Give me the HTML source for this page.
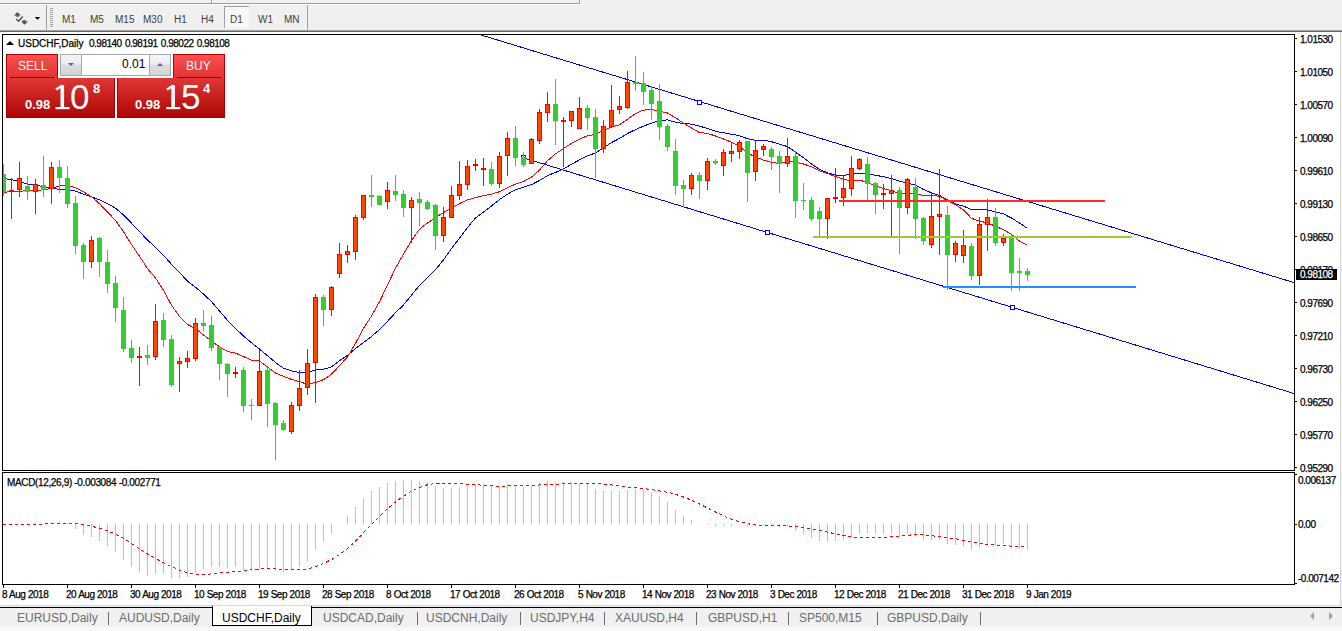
<!DOCTYPE html>
<html><head><meta charset="utf-8">
<style>
html,body{margin:0;padding:0;}
body{width:1342px;height:631px;overflow:hidden;background:#f0f0f0;position:relative;font-family:"Liberation Sans",sans-serif;}
.abs{position:absolute;white-space:nowrap;}
.ax{position:absolute;font-size:10px;line-height:11px;letter-spacing:-0.5px;color:#000;white-space:nowrap;-webkit-text-stroke:0.25px #000;}
.tf{position:absolute;top:14px;font-size:10px;line-height:11px;color:#404040;}
.tab{position:absolute;top:611px;font-size:12px;line-height:14px;color:#6d6d6d;white-space:nowrap;}
.sep{position:absolute;top:612px;width:1px;height:13px;background:#6d6d6d;}
</style></head><body>
<!-- top toolbar remnant -->
<div class="abs" style="left:0;top:0;width:1342px;height:3px;background:#f0f0f0"></div>
<div class="abs" style="left:0;top:3px;width:580px;height:1px;background:#a0a0a0"></div><div class="abs" style="left:0;top:4px;width:580px;height:1px;background:#fcfcfc"></div><div class="abs" style="left:579px;top:0;width:1px;height:4px;background:#a0a0a0"></div><div class="abs" style="left:211px;top:0;width:1px;height:3px;background:#a0a0a0"></div><div class="abs" style="left:212px;top:0;width:1px;height:3px;background:#fff"></div>
<div class="abs" style="left:46px;top:5px;width:1px;height:25px;background:#a0a0a0"></div>
<div class="abs" style="left:307px;top:5px;width:1px;height:25px;background:#a0a0a0"></div>
<!-- toolbar bottom border -->
<div class="abs" style="left:0;top:30px;width:1342px;height:1px;background:#a0a0a0"></div>
<div class="abs" style="left:0;top:31px;width:1342px;height:1px;background:#696969"></div>
<!-- chart window white -->
<div class="abs" style="left:0;top:32px;width:1340px;height:573px;background:#fff"></div>
<div class="abs" style="left:1340px;top:32px;width:1px;height:573px;background:#d8d8d8"></div>
<div class="abs" style="left:0;top:605px;width:1342px;height:1px;background:#d8d8d8"></div>
<div class="abs" style="left:0;top:607px;width:1342px;height:1px;background:#000"></div>
<div class="abs" style="left:0;top:627px;width:1342px;height:4px;background:#f8f8f8"></div>

<svg class="abs" style="left:0;top:0" width="1342" height="631" shape-rendering="crispEdges">
<defs>
<clipPath id="mainclip"><rect x="3" y="35" width="1291" height="435"/></clipPath>
<clipPath id="macdclip"><rect x="3" y="473" width="1291" height="111"/></clipPath>
</defs>
<g clip-path="url(#mainclip)">
<polyline points="3.5,178.4 11.5,179.7 19.5,181.6 27.5,183.9 35.5,185.4 43.5,186.4 51.5,188.3 59.5,189.4 67.5,189.7 75.5,191.1 83.5,194.1 91.5,196.8 99.5,199.9 107.5,203.6 115.5,208.2 123.5,214.9 131.5,223.2 139.5,231.7 147.5,239.9 155.5,247.5 163.5,255.2 171.5,264.4 179.5,272.5 187.5,281.1 195.5,287.3 203.5,294.0 211.5,301.6 219.5,311.0 227.5,320.3 235.5,328.4 243.5,336.0 251.5,342.8 259.5,349.1 267.5,355.8 275.5,362.5 283.5,368.3 291.5,370.9 299.5,372.4 307.5,372.7 315.5,369.8 323.5,369.3 331.5,366.8 339.5,360.6 347.5,355.3 355.5,348.6 363.5,342.5 371.5,336.4 379.5,329.6 387.5,321.3 395.5,312.7 403.5,304.9 411.5,295.1 419.5,285.4 427.5,277.7 435.5,269.7 443.5,259.8 451.5,248.6 459.5,238.1 467.5,227.5 475.5,218.0 483.5,211.9 491.5,205.9 499.5,199.6 507.5,194.1 515.5,189.7 523.5,187.3 531.5,184.6 539.5,180.5 547.5,175.7 555.5,172.4 563.5,168.9 571.5,164.2 579.5,159.9 587.5,155.8 595.5,152.9 603.5,147.7 611.5,142.6 619.5,138.4 627.5,133.5 635.5,129.6 643.5,126.2 651.5,123.1 659.5,120.4 667.5,119.9 675.5,122.2 683.5,123.7 691.5,124.1 699.5,126.1 707.5,128.5 715.5,131.3 723.5,132.8 731.5,134.2 739.5,135.7 747.5,138.8 755.5,140.3 763.5,140.2 771.5,141.7 779.5,144.2 787.5,146.6 795.5,152.2 803.5,157.8 811.5,163.9 819.5,169.4 827.5,172.8 835.5,175.2 843.5,175.3 851.5,174.3 859.5,173.5 867.5,173.6 875.5,175.3 883.5,176.7 891.5,178.5 899.5,181.2 907.5,183.0 915.5,185.2 923.5,189.5 931.5,192.8 939.5,195.5 947.5,199.9 955.5,204.0 963.5,206.1 971.5,209.7 979.5,209.9 987.5,209.8 995.5,212.0 1003.5,213.9 1011.5,218.0 1019.5,223.0 1027.5,228.5" fill="none" stroke="#0000ff" stroke-width="1" />
<polyline points="3.5,192.3 11.5,191.7 19.5,191.2 27.5,190.8 35.5,190.4 43.5,189.8 51.5,188.3 59.5,185.8 67.5,185.2 75.5,187.8 83.5,191.7 91.5,196.8 99.5,203.7 107.5,212.0 115.5,220.4 123.5,231.7 131.5,244.6 139.5,256.3 147.5,268.7 155.5,278.0 163.5,290.4 171.5,305.2 179.5,316.4 187.5,324.4 195.5,328.8 203.5,334.9 211.5,341.0 219.5,346.8 227.5,351.5 235.5,353.1 243.5,356.6 251.5,360.1 259.5,361.1 267.5,367.0 275.5,373.1 283.5,376.3 291.5,379.4 299.5,381.6 307.5,384.4 315.5,382.4 323.5,379.7 331.5,374.2 339.5,365.6 347.5,356.9 355.5,343.4 363.5,328.3 371.5,315.9 379.5,301.7 387.5,284.9 395.5,268.1 403.5,254.1 411.5,240.6 419.5,229.2 427.5,222.9 435.5,217.6 443.5,212.5 451.5,208.3 459.5,203.5 467.5,199.9 475.5,197.7 483.5,195.7 491.5,194.2 499.5,191.7 507.5,187.7 515.5,184.1 523.5,181.6 531.5,177.1 539.5,170.1 547.5,160.7 555.5,153.8 563.5,148.5 571.5,143.3 579.5,139.1 587.5,135.8 595.5,134.4 603.5,130.3 611.5,127.0 619.5,124.8 627.5,119.3 635.5,113.5 643.5,110.1 651.5,109.5 659.5,111.1 667.5,113.0 675.5,117.7 683.5,123.2 691.5,128.0 699.5,132.5 707.5,133.4 715.5,136.0 723.5,139.0 731.5,142.2 739.5,146.5 747.5,152.9 755.5,157.1 763.5,160.1 771.5,162.3 779.5,163.5 787.5,161.3 795.5,162.2 803.5,164.0 811.5,166.7 819.5,170.9 827.5,173.4 835.5,176.6 843.5,179.2 851.5,181.1 859.5,180.1 867.5,182.5 875.5,186.0 883.5,188.6 891.5,190.5 899.5,194.2 907.5,192.6 915.5,193.9 923.5,195.5 931.5,195.2 939.5,196.4 947.5,200.5 955.5,204.5 963.5,210.0 971.5,218.3 979.5,221.2 987.5,222.8 995.5,226.3 1003.5,229.7 1011.5,234.4 1019.5,241.1 1027.5,245.1" fill="none" stroke="#ff0000" stroke-width="1" />
<line x1="481" y1="35" x2="1294" y2="282.6" stroke="#0000ff" stroke-width="1"/>
<line x1="523" y1="157.7" x2="1294" y2="393.5" stroke="#0000ff" stroke-width="1"/>
<rect x="697.5" y="100.5" width="4" height="4" fill="#fff" stroke="#0000ff" stroke-width="1"/>
<rect x="765.5" y="230.5" width="4" height="4" fill="#fff" stroke="#0000ff" stroke-width="1"/>
<rect x="1010.5" y="305.5" width="4" height="4" fill="#fff" stroke="#0000ff" stroke-width="1"/>
<rect x="521.5" y="155.5" width="4" height="4" fill="#fff" stroke="#0000ff" stroke-width="1"/>
<rect x="3" y="164" width="1" height="32" fill="#32cd32"/>
<rect x="1" y="174" width="5" height="18" fill="#32cd32"/>
<rect x="11" y="178" width="1" height="41" fill="#ff0000"/>
<rect x="9" y="190" width="5" height="2" fill="#ff0000"/>
<rect x="19" y="162" width="1" height="35" fill="#ff0000"/>
<rect x="17" y="178" width="5" height="12" fill="#ff0000"/>
<rect x="18" y="179" width="3" height="10" fill="#ff4500"/>
<rect x="27" y="176" width="1" height="24" fill="#32cd32"/>
<rect x="25" y="186" width="5" height="6" fill="#32cd32"/>
<rect x="35" y="179" width="1" height="35" fill="#ff0000"/>
<rect x="33" y="184" width="5" height="8" fill="#ff0000"/>
<rect x="34" y="185" width="3" height="6" fill="#ff4500"/>
<rect x="43" y="156" width="1" height="41" fill="#32cd32"/>
<rect x="41" y="185" width="5" height="5" fill="#32cd32"/>
<rect x="51" y="162" width="1" height="42" fill="#ff0000"/>
<rect x="49" y="167" width="5" height="22" fill="#ff0000"/>
<rect x="50" y="168" width="3" height="20" fill="#ff4500"/>
<rect x="59" y="160" width="1" height="33" fill="#32cd32"/>
<rect x="57" y="167" width="5" height="11" fill="#32cd32"/>
<rect x="67" y="166" width="1" height="42" fill="#32cd32"/>
<rect x="65" y="178" width="5" height="26" fill="#32cd32"/>
<rect x="75" y="196" width="1" height="58" fill="#32cd32"/>
<rect x="73" y="203" width="5" height="43" fill="#32cd32"/>
<rect x="83" y="243" width="1" height="36" fill="#32cd32"/>
<rect x="81" y="245" width="5" height="17" fill="#32cd32"/>
<rect x="91" y="236" width="1" height="32" fill="#ff0000"/>
<rect x="89" y="240" width="5" height="22" fill="#ff0000"/>
<rect x="90" y="241" width="3" height="20" fill="#ff4500"/>
<rect x="99" y="237" width="1" height="40" fill="#32cd32"/>
<rect x="97" y="238" width="5" height="24" fill="#32cd32"/>
<rect x="107" y="250" width="1" height="43" fill="#32cd32"/>
<rect x="105" y="262" width="5" height="22" fill="#32cd32"/>
<rect x="115" y="276" width="1" height="46" fill="#32cd32"/>
<rect x="113" y="283" width="5" height="25" fill="#32cd32"/>
<rect x="123" y="297" width="1" height="55" fill="#32cd32"/>
<rect x="121" y="310" width="5" height="39" fill="#32cd32"/>
<rect x="131" y="340" width="1" height="23" fill="#32cd32"/>
<rect x="129" y="348" width="5" height="10" fill="#32cd32"/>
<rect x="139" y="347" width="1" height="39" fill="#ff0000"/>
<rect x="137" y="356" width="5" height="2" fill="#ff0000"/>
<rect x="147" y="345" width="1" height="20" fill="#32cd32"/>
<rect x="145" y="355" width="5" height="3" fill="#32cd32"/>
<rect x="155" y="304" width="1" height="56" fill="#ff0000"/>
<rect x="153" y="321" width="5" height="36" fill="#ff0000"/>
<rect x="154" y="322" width="3" height="34" fill="#ff4500"/>
<rect x="163" y="313" width="1" height="34" fill="#32cd32"/>
<rect x="161" y="320" width="5" height="20" fill="#32cd32"/>
<rect x="171" y="335" width="1" height="52" fill="#32cd32"/>
<rect x="169" y="339" width="5" height="46" fill="#32cd32"/>
<rect x="179" y="357" width="1" height="35" fill="#ff0000"/>
<rect x="177" y="361" width="5" height="3" fill="#ff0000"/>
<rect x="178" y="362" width="3" height="1" fill="#ff4500"/>
<rect x="187" y="351" width="1" height="17" fill="#ff0000"/>
<rect x="185" y="358" width="5" height="4" fill="#ff0000"/>
<rect x="186" y="359" width="3" height="2" fill="#ff4500"/>
<rect x="195" y="318" width="1" height="43" fill="#ff0000"/>
<rect x="193" y="323" width="5" height="36" fill="#ff0000"/>
<rect x="194" y="324" width="3" height="34" fill="#ff4500"/>
<rect x="203" y="310" width="1" height="21" fill="#32cd32"/>
<rect x="201" y="323" width="5" height="3" fill="#32cd32"/>
<rect x="211" y="316" width="1" height="35" fill="#32cd32"/>
<rect x="209" y="325" width="5" height="23" fill="#32cd32"/>
<rect x="219" y="346" width="1" height="34" fill="#32cd32"/>
<rect x="217" y="347" width="5" height="17" fill="#32cd32"/>
<rect x="227" y="363" width="1" height="34" fill="#32cd32"/>
<rect x="225" y="364" width="5" height="10" fill="#32cd32"/>
<rect x="235" y="367" width="1" height="11" fill="#ff0000"/>
<rect x="233" y="372" width="5" height="2" fill="#ff0000"/>
<rect x="243" y="367" width="1" height="45" fill="#32cd32"/>
<rect x="241" y="370" width="5" height="36" fill="#32cd32"/>
<rect x="251" y="399" width="1" height="21" fill="#32cd32"/>
<rect x="249" y="405" width="5" height="1" fill="#32cd32"/>
<rect x="259" y="349" width="1" height="57" fill="#ff0000"/>
<rect x="257" y="371" width="5" height="35" fill="#ff0000"/>
<rect x="258" y="372" width="3" height="33" fill="#ff4500"/>
<rect x="267" y="367" width="1" height="60" fill="#32cd32"/>
<rect x="265" y="370" width="5" height="34" fill="#32cd32"/>
<rect x="275" y="402" width="1" height="58" fill="#32cd32"/>
<rect x="273" y="403" width="5" height="22" fill="#32cd32"/>
<rect x="283" y="420" width="1" height="11" fill="#32cd32"/>
<rect x="281" y="423" width="5" height="7" fill="#32cd32"/>
<rect x="291" y="402" width="1" height="32" fill="#ff0000"/>
<rect x="289" y="405" width="5" height="27" fill="#ff0000"/>
<rect x="290" y="406" width="3" height="25" fill="#ff4500"/>
<rect x="299" y="370" width="1" height="41" fill="#ff0000"/>
<rect x="297" y="388" width="5" height="18" fill="#ff0000"/>
<rect x="298" y="389" width="3" height="16" fill="#ff4500"/>
<rect x="307" y="349" width="1" height="46" fill="#ff0000"/>
<rect x="305" y="363" width="5" height="25" fill="#ff0000"/>
<rect x="306" y="364" width="3" height="23" fill="#ff4500"/>
<rect x="315" y="294" width="1" height="109" fill="#ff0000"/>
<rect x="313" y="297" width="5" height="66" fill="#ff0000"/>
<rect x="314" y="298" width="3" height="64" fill="#ff4500"/>
<rect x="323" y="295" width="1" height="31" fill="#32cd32"/>
<rect x="321" y="297" width="5" height="13" fill="#32cd32"/>
<rect x="331" y="286" width="1" height="30" fill="#ff0000"/>
<rect x="329" y="287" width="5" height="23" fill="#ff0000"/>
<rect x="330" y="288" width="3" height="21" fill="#ff4500"/>
<rect x="339" y="243" width="1" height="35" fill="#ff0000"/>
<rect x="337" y="254" width="5" height="20" fill="#ff0000"/>
<rect x="338" y="255" width="3" height="18" fill="#ff4500"/>
<rect x="347" y="245" width="1" height="18" fill="#ff0000"/>
<rect x="345" y="251" width="5" height="4" fill="#ff0000"/>
<rect x="346" y="252" width="3" height="2" fill="#ff4500"/>
<rect x="355" y="215" width="1" height="45" fill="#ff0000"/>
<rect x="353" y="217" width="5" height="35" fill="#ff0000"/>
<rect x="354" y="218" width="3" height="33" fill="#ff4500"/>
<rect x="363" y="195" width="1" height="25" fill="#ff0000"/>
<rect x="361" y="195" width="5" height="23" fill="#ff0000"/>
<rect x="362" y="196" width="3" height="21" fill="#ff4500"/>
<rect x="371" y="175" width="1" height="32" fill="#32cd32"/>
<rect x="369" y="195" width="5" height="2" fill="#32cd32"/>
<rect x="379" y="195" width="1" height="10" fill="#32cd32"/>
<rect x="377" y="196" width="5" height="9" fill="#32cd32"/>
<rect x="387" y="182" width="1" height="27" fill="#ff0000"/>
<rect x="385" y="190" width="5" height="12" fill="#ff0000"/>
<rect x="386" y="191" width="3" height="10" fill="#ff4500"/>
<rect x="395" y="175" width="1" height="26" fill="#32cd32"/>
<rect x="393" y="191" width="5" height="4" fill="#32cd32"/>
<rect x="403" y="190" width="1" height="27" fill="#32cd32"/>
<rect x="401" y="194" width="5" height="14" fill="#32cd32"/>
<rect x="411" y="197" width="1" height="46" fill="#ff0000"/>
<rect x="409" y="200" width="5" height="8" fill="#ff0000"/>
<rect x="410" y="201" width="3" height="6" fill="#ff4500"/>
<rect x="419" y="192" width="1" height="34" fill="#32cd32"/>
<rect x="417" y="199" width="5" height="4" fill="#32cd32"/>
<rect x="427" y="200" width="1" height="10" fill="#32cd32"/>
<rect x="425" y="202" width="5" height="7" fill="#32cd32"/>
<rect x="435" y="204" width="1" height="46" fill="#32cd32"/>
<rect x="433" y="205" width="5" height="31" fill="#32cd32"/>
<rect x="443" y="207" width="1" height="35" fill="#ff0000"/>
<rect x="441" y="217" width="5" height="19" fill="#ff0000"/>
<rect x="442" y="218" width="3" height="17" fill="#ff4500"/>
<rect x="451" y="186" width="1" height="32" fill="#ff0000"/>
<rect x="449" y="195" width="5" height="23" fill="#ff0000"/>
<rect x="450" y="196" width="3" height="21" fill="#ff4500"/>
<rect x="459" y="161" width="1" height="39" fill="#ff0000"/>
<rect x="457" y="184" width="5" height="12" fill="#ff0000"/>
<rect x="458" y="185" width="3" height="10" fill="#ff4500"/>
<rect x="467" y="160" width="1" height="30" fill="#ff0000"/>
<rect x="465" y="166" width="5" height="19" fill="#ff0000"/>
<rect x="466" y="167" width="3" height="17" fill="#ff4500"/>
<rect x="475" y="159" width="1" height="12" fill="#ff0000"/>
<rect x="473" y="164" width="5" height="2" fill="#ff0000"/>
<rect x="483" y="158" width="1" height="28" fill="#ff0000"/>
<rect x="481" y="168" width="5" height="2" fill="#ff0000"/>
<rect x="491" y="162" width="1" height="24" fill="#32cd32"/>
<rect x="489" y="169" width="5" height="15" fill="#32cd32"/>
<rect x="499" y="152" width="1" height="36" fill="#ff0000"/>
<rect x="497" y="156" width="5" height="28" fill="#ff0000"/>
<rect x="498" y="157" width="3" height="26" fill="#ff4500"/>
<rect x="507" y="132" width="1" height="44" fill="#ff0000"/>
<rect x="505" y="138" width="5" height="18" fill="#ff0000"/>
<rect x="506" y="139" width="3" height="16" fill="#ff4500"/>
<rect x="515" y="126" width="1" height="40" fill="#32cd32"/>
<rect x="513" y="138" width="5" height="20" fill="#32cd32"/>
<rect x="523" y="152" width="1" height="15" fill="#32cd32"/>
<rect x="521" y="157" width="5" height="8" fill="#32cd32"/>
<rect x="531" y="138" width="1" height="26" fill="#ff0000"/>
<rect x="529" y="139" width="5" height="25" fill="#ff0000"/>
<rect x="530" y="140" width="3" height="23" fill="#ff4500"/>
<rect x="539" y="109" width="1" height="35" fill="#ff0000"/>
<rect x="537" y="112" width="5" height="29" fill="#ff0000"/>
<rect x="538" y="113" width="3" height="27" fill="#ff4500"/>
<rect x="547" y="92" width="1" height="30" fill="#ff0000"/>
<rect x="545" y="104" width="5" height="9" fill="#ff0000"/>
<rect x="546" y="105" width="3" height="7" fill="#ff4500"/>
<rect x="555" y="79" width="1" height="66" fill="#32cd32"/>
<rect x="553" y="104" width="5" height="17" fill="#32cd32"/>
<rect x="563" y="117" width="1" height="50" fill="#ff0000"/>
<rect x="561" y="120" width="5" height="2" fill="#ff0000"/>
<rect x="571" y="111" width="1" height="16" fill="#ff0000"/>
<rect x="569" y="111" width="5" height="10" fill="#ff0000"/>
<rect x="570" y="112" width="3" height="8" fill="#ff4500"/>
<rect x="579" y="97" width="1" height="32" fill="#ff0000"/>
<rect x="577" y="108" width="5" height="21" fill="#ff0000"/>
<rect x="578" y="109" width="3" height="19" fill="#ff4500"/>
<rect x="587" y="105" width="1" height="25" fill="#32cd32"/>
<rect x="585" y="108" width="5" height="10" fill="#32cd32"/>
<rect x="595" y="109" width="1" height="69" fill="#32cd32"/>
<rect x="593" y="117" width="5" height="32" fill="#32cd32"/>
<rect x="603" y="120" width="1" height="33" fill="#ff0000"/>
<rect x="601" y="126" width="5" height="23" fill="#ff0000"/>
<rect x="602" y="127" width="3" height="21" fill="#ff4500"/>
<rect x="611" y="85" width="1" height="42" fill="#ff0000"/>
<rect x="609" y="110" width="5" height="17" fill="#ff0000"/>
<rect x="610" y="111" width="3" height="15" fill="#ff4500"/>
<rect x="619" y="96" width="1" height="18" fill="#ff0000"/>
<rect x="617" y="106" width="5" height="4" fill="#ff0000"/>
<rect x="618" y="107" width="3" height="2" fill="#ff4500"/>
<rect x="627" y="71" width="1" height="38" fill="#ff0000"/>
<rect x="625" y="82" width="5" height="26" fill="#ff0000"/>
<rect x="626" y="83" width="3" height="24" fill="#ff4500"/>
<rect x="635" y="56" width="1" height="35" fill="#32cd32"/>
<rect x="633" y="82" width="5" height="2" fill="#32cd32"/>
<rect x="643" y="72" width="1" height="33" fill="#32cd32"/>
<rect x="641" y="83" width="5" height="9" fill="#32cd32"/>
<rect x="651" y="86" width="1" height="34" fill="#32cd32"/>
<rect x="649" y="90" width="5" height="14" fill="#32cd32"/>
<rect x="659" y="84" width="1" height="56" fill="#32cd32"/>
<rect x="657" y="101" width="5" height="26" fill="#32cd32"/>
<rect x="667" y="124" width="1" height="27" fill="#32cd32"/>
<rect x="665" y="126" width="5" height="21" fill="#32cd32"/>
<rect x="675" y="139" width="1" height="56" fill="#32cd32"/>
<rect x="673" y="151" width="5" height="35" fill="#32cd32"/>
<rect x="683" y="180" width="1" height="27" fill="#32cd32"/>
<rect x="681" y="185" width="5" height="4" fill="#32cd32"/>
<rect x="691" y="173" width="1" height="22" fill="#ff0000"/>
<rect x="689" y="175" width="5" height="14" fill="#ff0000"/>
<rect x="690" y="176" width="3" height="12" fill="#ff4500"/>
<rect x="699" y="172" width="1" height="27" fill="#32cd32"/>
<rect x="697" y="175" width="5" height="6" fill="#32cd32"/>
<rect x="707" y="158" width="1" height="32" fill="#ff0000"/>
<rect x="705" y="161" width="5" height="20" fill="#ff0000"/>
<rect x="706" y="162" width="3" height="18" fill="#ff4500"/>
<rect x="715" y="159" width="1" height="6" fill="#32cd32"/>
<rect x="713" y="161" width="5" height="2" fill="#32cd32"/>
<rect x="723" y="149" width="1" height="27" fill="#ff0000"/>
<rect x="721" y="152" width="5" height="14" fill="#ff0000"/>
<rect x="722" y="153" width="3" height="12" fill="#ff4500"/>
<rect x="731" y="143" width="1" height="19" fill="#ff0000"/>
<rect x="729" y="151" width="5" height="3" fill="#ff0000"/>
<rect x="730" y="152" width="3" height="1" fill="#ff4500"/>
<rect x="739" y="140" width="1" height="19" fill="#ff0000"/>
<rect x="737" y="142" width="5" height="10" fill="#ff0000"/>
<rect x="738" y="143" width="3" height="8" fill="#ff4500"/>
<rect x="747" y="141" width="1" height="61" fill="#32cd32"/>
<rect x="745" y="141" width="5" height="32" fill="#32cd32"/>
<rect x="755" y="140" width="1" height="41" fill="#ff0000"/>
<rect x="753" y="150" width="5" height="22" fill="#ff0000"/>
<rect x="754" y="151" width="3" height="20" fill="#ff4500"/>
<rect x="763" y="144" width="1" height="12" fill="#ff0000"/>
<rect x="761" y="146" width="5" height="4" fill="#ff0000"/>
<rect x="762" y="147" width="3" height="2" fill="#ff4500"/>
<rect x="771" y="147" width="1" height="23" fill="#32cd32"/>
<rect x="769" y="149" width="5" height="8" fill="#32cd32"/>
<rect x="779" y="151" width="1" height="42" fill="#32cd32"/>
<rect x="777" y="156" width="5" height="8" fill="#32cd32"/>
<rect x="787" y="138" width="1" height="29" fill="#ff0000"/>
<rect x="785" y="156" width="5" height="8" fill="#ff0000"/>
<rect x="786" y="157" width="3" height="6" fill="#ff4500"/>
<rect x="795" y="151" width="1" height="67" fill="#32cd32"/>
<rect x="793" y="156" width="5" height="45" fill="#32cd32"/>
<rect x="803" y="183" width="1" height="27" fill="#32cd32"/>
<rect x="801" y="200" width="5" height="1" fill="#32cd32"/>
<rect x="811" y="197" width="1" height="24" fill="#32cd32"/>
<rect x="809" y="200" width="5" height="19" fill="#32cd32"/>
<rect x="819" y="207" width="1" height="30" fill="#32cd32"/>
<rect x="817" y="211" width="5" height="8" fill="#32cd32"/>
<rect x="827" y="198" width="1" height="41" fill="#ff0000"/>
<rect x="825" y="198" width="5" height="21" fill="#ff0000"/>
<rect x="826" y="199" width="3" height="19" fill="#ff4500"/>
<rect x="835" y="168" width="1" height="35" fill="#ff0000"/>
<rect x="833" y="197" width="5" height="2" fill="#ff0000"/>
<rect x="843" y="175" width="1" height="31" fill="#ff0000"/>
<rect x="841" y="188" width="5" height="10" fill="#ff0000"/>
<rect x="842" y="189" width="3" height="8" fill="#ff4500"/>
<rect x="851" y="156" width="1" height="40" fill="#ff0000"/>
<rect x="849" y="168" width="5" height="21" fill="#ff0000"/>
<rect x="850" y="169" width="3" height="19" fill="#ff4500"/>
<rect x="859" y="158" width="1" height="12" fill="#ff0000"/>
<rect x="857" y="159" width="5" height="10" fill="#ff0000"/>
<rect x="858" y="160" width="3" height="8" fill="#ff4500"/>
<rect x="867" y="157" width="1" height="43" fill="#32cd32"/>
<rect x="865" y="164" width="5" height="20" fill="#32cd32"/>
<rect x="875" y="182" width="1" height="32" fill="#32cd32"/>
<rect x="873" y="183" width="5" height="12" fill="#32cd32"/>
<rect x="883" y="184" width="1" height="25" fill="#ff0000"/>
<rect x="881" y="193" width="5" height="2" fill="#ff0000"/>
<rect x="891" y="175" width="1" height="61" fill="#ff0000"/>
<rect x="889" y="190" width="5" height="4" fill="#ff0000"/>
<rect x="890" y="191" width="3" height="2" fill="#ff4500"/>
<rect x="899" y="187" width="1" height="67" fill="#32cd32"/>
<rect x="897" y="190" width="5" height="18" fill="#32cd32"/>
<rect x="907" y="178" width="1" height="36" fill="#ff0000"/>
<rect x="905" y="179" width="5" height="29" fill="#ff0000"/>
<rect x="906" y="180" width="3" height="27" fill="#ff4500"/>
<rect x="915" y="178" width="1" height="61" fill="#32cd32"/>
<rect x="913" y="187" width="5" height="32" fill="#32cd32"/>
<rect x="923" y="217" width="1" height="28" fill="#32cd32"/>
<rect x="921" y="218" width="5" height="23" fill="#32cd32"/>
<rect x="931" y="193" width="1" height="55" fill="#ff0000"/>
<rect x="929" y="216" width="5" height="29" fill="#ff0000"/>
<rect x="930" y="217" width="3" height="27" fill="#ff4500"/>
<rect x="939" y="169" width="1" height="86" fill="#ff0000"/>
<rect x="937" y="214" width="5" height="3" fill="#ff0000"/>
<rect x="938" y="215" width="3" height="1" fill="#ff4500"/>
<rect x="947" y="206" width="1" height="84" fill="#32cd32"/>
<rect x="945" y="215" width="5" height="40" fill="#32cd32"/>
<rect x="955" y="241" width="1" height="21" fill="#ff0000"/>
<rect x="953" y="243" width="5" height="12" fill="#ff0000"/>
<rect x="954" y="244" width="3" height="10" fill="#ff4500"/>
<rect x="963" y="230" width="1" height="33" fill="#ff0000"/>
<rect x="961" y="245" width="5" height="11" fill="#ff0000"/>
<rect x="962" y="246" width="3" height="9" fill="#ff4500"/>
<rect x="971" y="243" width="1" height="37" fill="#32cd32"/>
<rect x="969" y="246" width="5" height="30" fill="#32cd32"/>
<rect x="979" y="217" width="1" height="68" fill="#ff0000"/>
<rect x="977" y="224" width="5" height="52" fill="#ff0000"/>
<rect x="978" y="225" width="3" height="50" fill="#ff4500"/>
<rect x="987" y="199" width="1" height="52" fill="#ff0000"/>
<rect x="985" y="217" width="5" height="8" fill="#ff0000"/>
<rect x="986" y="218" width="3" height="6" fill="#ff4500"/>
<rect x="995" y="208" width="1" height="38" fill="#32cd32"/>
<rect x="993" y="217" width="5" height="26" fill="#32cd32"/>
<rect x="1003" y="234" width="1" height="12" fill="#ff0000"/>
<rect x="1001" y="238" width="5" height="5" fill="#ff0000"/>
<rect x="1002" y="239" width="3" height="3" fill="#ff4500"/>
<rect x="1011" y="235" width="1" height="56" fill="#32cd32"/>
<rect x="1009" y="236" width="5" height="37" fill="#32cd32"/>
<rect x="1019" y="258" width="1" height="33" fill="#32cd32"/>
<rect x="1017" y="271" width="5" height="2" fill="#32cd32"/>
<rect x="1027" y="268" width="1" height="13" fill="#32cd32"/>
<rect x="1025" y="271" width="5" height="4" fill="#32cd32"/>
<rect x="839" y="200" width="266" height="2" fill="#ff2a2a"/>
<rect x="813" y="236" width="319" height="2" fill="#9acd32"/>
<rect x="943" y="286" width="193" height="2" fill="#1e90ff"/>
</g>
<g clip-path="url(#macdclip)">
<rect x="3" y="524" width="1" height="1" fill="#c0c0c0"/>
<rect x="11" y="524" width="1" height="1" fill="#c0c0c0"/>
<rect x="35" y="523" width="1" height="1" fill="#c0c0c0"/>
<rect x="51" y="522" width="1" height="2" fill="#c0c0c0"/>
<rect x="59" y="521" width="1" height="3" fill="#c0c0c0"/>
<rect x="67" y="523" width="1" height="1" fill="#c0c0c0"/>
<rect x="75" y="524" width="1" height="5" fill="#c0c0c0"/>
<rect x="83" y="524" width="1" height="11" fill="#c0c0c0"/>
<rect x="91" y="524" width="1" height="13" fill="#c0c0c0"/>
<rect x="99" y="524" width="1" height="17" fill="#c0c0c0"/>
<rect x="107" y="524" width="1" height="22" fill="#c0c0c0"/>
<rect x="115" y="524" width="1" height="28" fill="#c0c0c0"/>
<rect x="123" y="524" width="1" height="36" fill="#c0c0c0"/>
<rect x="131" y="524" width="1" height="43" fill="#c0c0c0"/>
<rect x="139" y="524" width="1" height="48" fill="#c0c0c0"/>
<rect x="147" y="524" width="1" height="52" fill="#c0c0c0"/>
<rect x="155" y="524" width="1" height="50" fill="#c0c0c0"/>
<rect x="163" y="524" width="1" height="50" fill="#c0c0c0"/>
<rect x="171" y="524" width="1" height="54" fill="#c0c0c0"/>
<rect x="179" y="524" width="1" height="54" fill="#c0c0c0"/>
<rect x="187" y="524" width="1" height="53" fill="#c0c0c0"/>
<rect x="195" y="524" width="1" height="49" fill="#c0c0c0"/>
<rect x="203" y="524" width="1" height="45" fill="#c0c0c0"/>
<rect x="211" y="524" width="1" height="43" fill="#c0c0c0"/>
<rect x="219" y="524" width="1" height="43" fill="#c0c0c0"/>
<rect x="227" y="524" width="1" height="44" fill="#c0c0c0"/>
<rect x="235" y="524" width="1" height="43" fill="#c0c0c0"/>
<rect x="243" y="524" width="1" height="46" fill="#c0c0c0"/>
<rect x="251" y="524" width="1" height="47" fill="#c0c0c0"/>
<rect x="259" y="524" width="1" height="45" fill="#c0c0c0"/>
<rect x="267" y="524" width="1" height="45" fill="#c0c0c0"/>
<rect x="275" y="524" width="1" height="47" fill="#c0c0c0"/>
<rect x="283" y="524" width="1" height="48" fill="#c0c0c0"/>
<rect x="291" y="524" width="1" height="46" fill="#c0c0c0"/>
<rect x="299" y="524" width="1" height="43" fill="#c0c0c0"/>
<rect x="307" y="524" width="1" height="37" fill="#c0c0c0"/>
<rect x="315" y="524" width="1" height="26" fill="#c0c0c0"/>
<rect x="323" y="524" width="1" height="18" fill="#c0c0c0"/>
<rect x="331" y="524" width="1" height="10" fill="#c0c0c0"/>
<rect x="347" y="516" width="1" height="8" fill="#c0c0c0"/>
<rect x="355" y="507" width="1" height="17" fill="#c0c0c0"/>
<rect x="363" y="498" width="1" height="26" fill="#c0c0c0"/>
<rect x="371" y="491" width="1" height="33" fill="#c0c0c0"/>
<rect x="379" y="487" width="1" height="37" fill="#c0c0c0"/>
<rect x="387" y="483" width="1" height="41" fill="#c0c0c0"/>
<rect x="395" y="481" width="1" height="43" fill="#c0c0c0"/>
<rect x="403" y="480" width="1" height="44" fill="#c0c0c0"/>
<rect x="411" y="480" width="1" height="44" fill="#c0c0c0"/>
<rect x="419" y="481" width="1" height="43" fill="#c0c0c0"/>
<rect x="427" y="482" width="1" height="42" fill="#c0c0c0"/>
<rect x="435" y="486" width="1" height="38" fill="#c0c0c0"/>
<rect x="443" y="488" width="1" height="36" fill="#c0c0c0"/>
<rect x="451" y="488" width="1" height="36" fill="#c0c0c0"/>
<rect x="459" y="487" width="1" height="37" fill="#c0c0c0"/>
<rect x="467" y="486" width="1" height="38" fill="#c0c0c0"/>
<rect x="475" y="484" width="1" height="40" fill="#c0c0c0"/>
<rect x="483" y="484" width="1" height="40" fill="#c0c0c0"/>
<rect x="491" y="486" width="1" height="38" fill="#c0c0c0"/>
<rect x="499" y="486" width="1" height="38" fill="#c0c0c0"/>
<rect x="507" y="484" width="1" height="40" fill="#c0c0c0"/>
<rect x="515" y="485" width="1" height="39" fill="#c0c0c0"/>
<rect x="523" y="487" width="1" height="37" fill="#c0c0c0"/>
<rect x="531" y="486" width="1" height="38" fill="#c0c0c0"/>
<rect x="539" y="483" width="1" height="41" fill="#c0c0c0"/>
<rect x="547" y="481" width="1" height="43" fill="#c0c0c0"/>
<rect x="555" y="482" width="1" height="42" fill="#c0c0c0"/>
<rect x="563" y="482" width="1" height="42" fill="#c0c0c0"/>
<rect x="571" y="482" width="1" height="42" fill="#c0c0c0"/>
<rect x="579" y="483" width="1" height="41" fill="#c0c0c0"/>
<rect x="587" y="484" width="1" height="40" fill="#c0c0c0"/>
<rect x="595" y="489" width="1" height="35" fill="#c0c0c0"/>
<rect x="603" y="491" width="1" height="33" fill="#c0c0c0"/>
<rect x="611" y="491" width="1" height="33" fill="#c0c0c0"/>
<rect x="619" y="491" width="1" height="33" fill="#c0c0c0"/>
<rect x="627" y="490" width="1" height="34" fill="#c0c0c0"/>
<rect x="635" y="489" width="1" height="35" fill="#c0c0c0"/>
<rect x="643" y="490" width="1" height="34" fill="#c0c0c0"/>
<rect x="651" y="492" width="1" height="32" fill="#c0c0c0"/>
<rect x="659" y="496" width="1" height="28" fill="#c0c0c0"/>
<rect x="667" y="501" width="1" height="23" fill="#c0c0c0"/>
<rect x="675" y="509" width="1" height="15" fill="#c0c0c0"/>
<rect x="683" y="516" width="1" height="8" fill="#c0c0c0"/>
<rect x="691" y="520" width="1" height="4" fill="#c0c0c0"/>
<rect x="707" y="524" width="1" height="1" fill="#c0c0c0"/>
<rect x="715" y="524" width="1" height="2" fill="#c0c0c0"/>
<rect x="723" y="524" width="1" height="2" fill="#c0c0c0"/>
<rect x="731" y="524" width="1" height="2" fill="#c0c0c0"/>
<rect x="739" y="524" width="1" height="1" fill="#c0c0c0"/>
<rect x="747" y="524" width="1" height="3" fill="#c0c0c0"/>
<rect x="755" y="524" width="1" height="2" fill="#c0c0c0"/>
<rect x="763" y="524" width="1" height="1" fill="#c0c0c0"/>
<rect x="771" y="524" width="1" height="2" fill="#c0c0c0"/>
<rect x="779" y="524" width="1" height="3" fill="#c0c0c0"/>
<rect x="787" y="524" width="1" height="2" fill="#c0c0c0"/>
<rect x="795" y="524" width="1" height="7" fill="#c0c0c0"/>
<rect x="803" y="524" width="1" height="10" fill="#c0c0c0"/>
<rect x="811" y="524" width="1" height="14" fill="#c0c0c0"/>
<rect x="819" y="524" width="1" height="17" fill="#c0c0c0"/>
<rect x="827" y="524" width="1" height="18" fill="#c0c0c0"/>
<rect x="835" y="524" width="1" height="17" fill="#c0c0c0"/>
<rect x="843" y="524" width="1" height="16" fill="#c0c0c0"/>
<rect x="851" y="524" width="1" height="13" fill="#c0c0c0"/>
<rect x="859" y="524" width="1" height="10" fill="#c0c0c0"/>
<rect x="867" y="524" width="1" height="9" fill="#c0c0c0"/>
<rect x="875" y="524" width="1" height="10" fill="#c0c0c0"/>
<rect x="883" y="524" width="1" height="10" fill="#c0c0c0"/>
<rect x="891" y="524" width="1" height="10" fill="#c0c0c0"/>
<rect x="899" y="524" width="1" height="12" fill="#c0c0c0"/>
<rect x="907" y="524" width="1" height="10" fill="#c0c0c0"/>
<rect x="915" y="524" width="1" height="12" fill="#c0c0c0"/>
<rect x="923" y="524" width="1" height="16" fill="#c0c0c0"/>
<rect x="931" y="524" width="1" height="16" fill="#c0c0c0"/>
<rect x="939" y="524" width="1" height="16" fill="#c0c0c0"/>
<rect x="947" y="524" width="1" height="20" fill="#c0c0c0"/>
<rect x="955" y="524" width="1" height="21" fill="#c0c0c0"/>
<rect x="963" y="524" width="1" height="23" fill="#c0c0c0"/>
<rect x="971" y="524" width="1" height="26" fill="#c0c0c0"/>
<rect x="979" y="524" width="1" height="24" fill="#c0c0c0"/>
<rect x="987" y="524" width="1" height="21" fill="#c0c0c0"/>
<rect x="995" y="524" width="1" height="21" fill="#c0c0c0"/>
<rect x="1003" y="524" width="1" height="20" fill="#c0c0c0"/>
<rect x="1011" y="524" width="1" height="23" fill="#c0c0c0"/>
<rect x="1019" y="524" width="1" height="25" fill="#c0c0c0"/>
<rect x="1027" y="524" width="1" height="26" fill="#c0c0c0"/>
<polyline points="3.5,525.0 11.5,524.9 19.5,524.4 27.5,524.3 35.5,524.1 43.5,524.0 51.5,523.7 59.5,523.3 67.5,523.3 75.5,523.7 83.5,524.8 91.5,526.3 99.5,528.2 107.5,530.8 115.5,534.0 123.5,538.3 131.5,543.5 139.5,548.9 147.5,554.1 155.5,558.5 163.5,562.6 171.5,566.6 179.5,570.2 187.5,573.0 195.5,574.3 203.5,574.5 211.5,573.9 219.5,573.0 227.5,572.3 235.5,571.6 243.5,570.7 251.5,569.9 259.5,568.9 267.5,568.5 275.5,568.8 283.5,569.3 291.5,569.7 299.5,569.6 307.5,568.9 315.5,566.7 323.5,563.5 331.5,559.6 339.5,554.6 347.5,548.4 355.5,541.1 363.5,532.8 371.5,524.3 379.5,516.2 387.5,508.8 395.5,502.0 403.5,496.2 411.5,491.3 419.5,487.4 427.5,484.7 435.5,483.4 443.5,483.1 451.5,483.2 459.5,483.7 467.5,484.3 475.5,484.7 483.5,485.2 491.5,485.8 499.5,486.2 507.5,485.9 515.5,485.5 523.5,485.3 531.5,485.2 539.5,485.0 547.5,484.6 555.5,484.3 563.5,483.8 571.5,483.5 579.5,483.4 587.5,483.3 595.5,483.6 603.5,484.1 611.5,484.9 619.5,486.1 627.5,487.0 635.5,487.8 643.5,488.6 651.5,489.6 659.5,490.9 667.5,492.2 675.5,494.3 683.5,497.0 691.5,500.2 699.5,504.0 707.5,508.0 715.5,512.0 723.5,515.8 731.5,519.2 739.5,521.8 747.5,523.7 755.5,524.9 763.5,525.5 771.5,525.7 779.5,525.8 787.5,525.9 795.5,526.4 803.5,527.3 811.5,528.8 819.5,530.4 827.5,532.1 835.5,533.9 843.5,535.6 851.5,536.8 859.5,537.6 867.5,537.9 875.5,537.9 883.5,537.5 891.5,536.7 899.5,536.0 907.5,535.2 915.5,534.7 923.5,535.0 931.5,535.8 939.5,536.5 947.5,537.6 955.5,538.8 963.5,540.2 971.5,541.8 979.5,543.4 987.5,544.4 995.5,544.9 1003.5,545.4 1011.5,546.1 1019.5,546.6 1027.5,547.1" fill="none" stroke="#ff0000" stroke-width="1" stroke-dasharray="3 3"/>
</g>
<rect x="2.5" y="34.5" width="1292" height="436" fill="none" stroke="#000" stroke-width="1"/>
<rect x="2.5" y="472.5" width="1292" height="112" fill="none" stroke="#000" stroke-width="1"/>
<rect x="1295" y="38" width="2" height="1" fill="#000"/>
<rect x="1295" y="71" width="2" height="1" fill="#000"/>
<rect x="1295" y="104" width="2" height="1" fill="#000"/>
<rect x="1295" y="137" width="2" height="1" fill="#000"/>
<rect x="1295" y="170" width="2" height="1" fill="#000"/>
<rect x="1295" y="203" width="2" height="1" fill="#000"/>
<rect x="1295" y="236" width="2" height="1" fill="#000"/>
<rect x="1295" y="269" width="2" height="1" fill="#000"/>
<rect x="1295" y="302" width="2" height="1" fill="#000"/>
<rect x="1295" y="335" width="2" height="1" fill="#000"/>
<rect x="1295" y="368" width="2" height="1" fill="#000"/>
<rect x="1295" y="401" width="2" height="1" fill="#000"/>
<rect x="1295" y="434" width="2" height="1" fill="#000"/>
<rect x="1295" y="467" width="2" height="1" fill="#000"/>
<rect x="1295" y="474" width="2" height="1" fill="#000"/>
<rect x="1295" y="524" width="2" height="1" fill="#000"/>
<rect x="1295" y="583" width="2" height="1" fill="#000"/>
<rect x="3" y="585" width="1" height="3" fill="#000"/>
<rect x="67" y="585" width="1" height="3" fill="#000"/>
<rect x="131" y="585" width="1" height="3" fill="#000"/>
<rect x="195" y="585" width="1" height="3" fill="#000"/>
<rect x="259" y="585" width="1" height="3" fill="#000"/>
<rect x="323" y="585" width="1" height="3" fill="#000"/>
<rect x="387" y="585" width="1" height="3" fill="#000"/>
<rect x="451" y="585" width="1" height="3" fill="#000"/>
<rect x="515" y="585" width="1" height="3" fill="#000"/>
<rect x="579" y="585" width="1" height="3" fill="#000"/>
<rect x="643" y="585" width="1" height="3" fill="#000"/>
<rect x="707" y="585" width="1" height="3" fill="#000"/>
<rect x="771" y="585" width="1" height="3" fill="#000"/>
<rect x="835" y="585" width="1" height="3" fill="#000"/>
<rect x="899" y="585" width="1" height="3" fill="#000"/>
<rect x="963" y="585" width="1" height="3" fill="#000"/>
<rect x="1027" y="585" width="1" height="3" fill="#000"/>
</svg>
<div class="abs" style="left:224px;top:6px;width:25px;height:22px;background:#f7f7f7;border-left:1px solid #a0a0a0;border-top:1px solid #a0a0a0;box-sizing:border-box"></div>
<div class="tf" style="left:62px">M1</div>
<div class="tf" style="left:90px">M5</div>
<div class="tf" style="left:115px">M15</div>
<div class="tf" style="left:143px">M30</div>
<div class="tf" style="left:174px">H1</div>
<div class="tf" style="left:201px">H4</div>
<div class="tf" style="left:230px">D1</div>
<div class="tf" style="left:258px">W1</div>
<div class="tf" style="left:284px">MN</div>
<div class="abs" style="left:50px;top:8px;width:3px;height:1px;background:#a0a0a0"></div>
<div class="abs" style="left:50px;top:10px;width:3px;height:1px;background:#a0a0a0"></div>
<div class="abs" style="left:50px;top:12px;width:3px;height:1px;background:#a0a0a0"></div>
<div class="abs" style="left:50px;top:14px;width:3px;height:1px;background:#a0a0a0"></div>
<div class="abs" style="left:50px;top:16px;width:3px;height:1px;background:#a0a0a0"></div>
<div class="abs" style="left:50px;top:18px;width:3px;height:1px;background:#a0a0a0"></div>
<div class="abs" style="left:50px;top:20px;width:3px;height:1px;background:#a0a0a0"></div>
<div class="abs" style="left:50px;top:22px;width:3px;height:1px;background:#a0a0a0"></div>
<div class="abs" style="left:50px;top:24px;width:3px;height:1px;background:#a0a0a0"></div>
<div class="abs" style="left:50px;top:26px;width:3px;height:1px;background:#a0a0a0"></div>
<div class="abs" style="left:6px;top:41px;width:0;height:0;border-left:4px solid transparent;border-right:4px solid transparent;border-bottom:4px solid #000"></div>
<div class="ax" style="left:18px;top:38px;letter-spacing:0">USDCHF,Daily</div>
<div class="ax" style="left:89px;top:38px;word-spacing:1px">0.98140 0.98191 0.98022 0.98108</div>
<div class="ax" style="left:7px;top:477px;letter-spacing:-0.35px">MACD(12,26,9) -0.003084 -0.002771</div>
<div class="ax" style="left:1300px;top:34px">1.01530</div>
<div class="ax" style="left:1300px;top:67px">1.01050</div>
<div class="ax" style="left:1300px;top:100px">1.00570</div>
<div class="ax" style="left:1300px;top:133px">1.00090</div>
<div class="ax" style="left:1300px;top:166px">0.99610</div>
<div class="ax" style="left:1300px;top:199px">0.99130</div>
<div class="ax" style="left:1300px;top:232px">0.98650</div>
<div class="ax" style="left:1300px;top:265px">0.98170</div>
<div class="ax" style="left:1300px;top:298px">0.97690</div>
<div class="ax" style="left:1300px;top:331px">0.97210</div>
<div class="ax" style="left:1300px;top:364px">0.96730</div>
<div class="ax" style="left:1300px;top:397px">0.96250</div>
<div class="ax" style="left:1300px;top:430px">0.95770</div>
<div class="ax" style="left:1300px;top:463px">0.95290</div>
<div class="abs" style="left:1296px;top:269px;width:41px;height:11px;background:#000"></div>
<div class="ax" style="left:1300px;top:269px;color:#fff;-webkit-text-stroke:0.25px #fff">0.98108</div>
<div class="ax" style="left:1298px;top:475px">0.006137</div>
<div class="ax" style="left:1298px;top:519px">0.00</div>
<div class="ax" style="left:1298px;top:573px">-0.007142</div>
<div class="ax" style="left:2px;top:589px;word-spacing:0.3px">8 Aug 2018</div>
<div class="ax" style="left:66px;top:589px;word-spacing:0.3px">20 Aug 2018</div>
<div class="ax" style="left:130px;top:589px;word-spacing:0.3px">30 Aug 2018</div>
<div class="ax" style="left:194px;top:589px;word-spacing:0.3px">10 Sep 2018</div>
<div class="ax" style="left:258px;top:589px;word-spacing:0.3px">19 Sep 2018</div>
<div class="ax" style="left:322px;top:589px;word-spacing:0.3px">28 Sep 2018</div>
<div class="ax" style="left:386px;top:589px;word-spacing:0.3px">8 Oct 2018</div>
<div class="ax" style="left:450px;top:589px;word-spacing:0.3px">17 Oct 2018</div>
<div class="ax" style="left:514px;top:589px;word-spacing:0.3px">26 Oct 2018</div>
<div class="ax" style="left:578px;top:589px;word-spacing:0.3px">5 Nov 2018</div>
<div class="ax" style="left:642px;top:589px;word-spacing:0.3px">14 Nov 2018</div>
<div class="ax" style="left:706px;top:589px;word-spacing:0.3px">23 Nov 2018</div>
<div class="ax" style="left:770px;top:589px;word-spacing:0.3px">3 Dec 2018</div>
<div class="ax" style="left:834px;top:589px;word-spacing:0.3px">12 Dec 2018</div>
<div class="ax" style="left:898px;top:589px;word-spacing:0.3px">21 Dec 2018</div>
<div class="ax" style="left:962px;top:589px;word-spacing:0.3px">31 Dec 2018</div>
<div class="ax" style="left:1026px;top:589px;word-spacing:0.3px">9 Jan 2019</div>
<div class="abs" style="left:212px;top:606px;width:100px;height:20px;background:#fff;border:1px solid #000;border-top:none;box-sizing:border-box"></div>
<div class="tab" style="left:17px;color:#6d6d6d">EURUSD,Daily</div>
<div class="tab" style="left:119px;color:#6d6d6d">AUDUSD,Daily</div>
<div class="tab" style="left:222px;color:#000">USDCHF,Daily</div>
<div class="tab" style="left:323px;color:#6d6d6d">USDCAD,Daily</div>
<div class="tab" style="left:426px;color:#6d6d6d">USDCNH,Daily</div>
<div class="tab" style="left:530px;color:#6d6d6d">USDJPY,H4</div>
<div class="tab" style="left:615px;color:#6d6d6d">XAUUSD,H4</div>
<div class="tab" style="left:708px;color:#6d6d6d">GBPUSD,H1</div>
<div class="tab" style="left:799px;color:#6d6d6d">SP500,M15</div>
<div class="tab" style="left:887px;color:#6d6d6d">GBPUSD,Daily</div>
<div class="sep" style="left:108px"></div>
<div class="sep" style="left:417px"></div>
<div class="sep" style="left:520px"></div>
<div class="sep" style="left:604px"></div>
<div class="sep" style="left:696px"></div>
<div class="sep" style="left:788px"></div>
<div class="sep" style="left:877px"></div>
<div class="sep" style="left:980px"></div>
<div class="abs" style="left:1310px;top:612px;width:0;height:0;border-top:4px solid transparent;border-bottom:4px solid transparent;border-right:4px solid #a0a0a0"></div>
<div class="abs" style="left:1329px;top:612px;width:0;height:0;border-top:4px solid transparent;border-bottom:4px solid transparent;border-left:4px solid #a0a0a0"></div>

<div class="abs" style="left:6px;top:54px;width:52px;height:25px;background:linear-gradient(#f85050,#e23232);border:1px solid #b40000;border-bottom:none;box-sizing:border-box"></div>
<div class="abs" style="left:173px;top:54px;width:52px;height:25px;background:linear-gradient(#f85050,#e23232);border:1px solid #b40000;border-bottom:none;box-sizing:border-box"></div>
<div class="abs" style="left:6px;top:78px;width:109px;height:40px;background:linear-gradient(#e03636,#ae0606);border:1px solid #a80000;border-top:none;box-sizing:border-box"></div>
<div class="abs" style="left:117px;top:78px;width:108px;height:40px;background:linear-gradient(#e03636,#ae0606);border:1px solid #a80000;border-top:none;box-sizing:border-box"></div>
<div class="abs" style="left:10px;top:77px;width:44px;height:1px;background:#900000"></div>
<div class="abs" style="left:177px;top:77px;width:44px;height:1px;background:#900000"></div>
<div class="abs" style="left:18px;top:59px;font-size:12px;line-height:14px;color:#fff">SELL</div>
<div class="abs" style="left:186px;top:59px;font-size:12px;line-height:14px;color:#fff">BUY</div>
<div class="abs" style="left:58px;top:54px;width:115px;height:24px;background:#fff"></div>
<div class="abs" style="left:60px;top:54px;width:111px;height:22px;background:#fff;border:1px solid #a8a8a8;box-sizing:border-box"></div>
<div class="abs" style="left:61px;top:55px;width:21px;height:20px;background:linear-gradient(#f4f4f4 0%,#ececec 45%,#dcdcdc 50%,#d4d4d4 100%);border-right:1px solid #a8a8a8;box-sizing:border-box"></div>
<div class="abs" style="left:149px;top:55px;width:21px;height:20px;background:linear-gradient(#f4f4f4 0%,#ececec 45%,#dcdcdc 50%,#d4d4d4 100%);border-left:1px solid #a8a8a8;box-sizing:border-box"></div>
<div class="abs" style="left:68px;top:63px;width:0;height:0;border-left:3px solid transparent;border-right:3px solid transparent;border-top:3px solid #5060c0"></div>
<div class="abs" style="left:157px;top:63px;width:0;height:0;border-left:3px solid transparent;border-right:3px solid transparent;border-bottom:3px solid #5060c0"></div>
<div class="abs" style="left:122px;top:57px;font-size:12px;line-height:14px;color:#000">0.01</div>
<div class="abs" style="left:25px;top:97px;font-size:13px;line-height:15px;font-weight:bold;color:#fff">0.98</div>
<div class="abs" style="left:93px;top:81px;font-size:13px;line-height:15px;font-weight:bold;color:#fff">8</div>
<div class="abs" style="left:135px;top:97px;font-size:13px;line-height:15px;font-weight:bold;color:#fff">0.98</div>
<div class="abs" style="left:203px;top:81px;font-size:13px;line-height:15px;font-weight:bold;color:#fff">4</div>
<div class="abs" style="left:70px;top:77px;font-size:35px;line-height:40px;color:#fff">0</div>
<div class="abs" style="left:181px;top:77px;font-size:35px;line-height:40px;color:#fff">5</div>
<svg class="abs" style="left:0;top:0" width="230" height="120">
<path d="M56 89.5 L62.5 85.5" stroke="#fff" stroke-width="2.6" fill="none"/>
<rect x="60.5" y="85" width="3.6" height="24" fill="#fff"/>
<rect x="55.5" y="107" width="14" height="2.2" fill="#fff"/>
<path d="M167 89.5 L173.5 85.5" stroke="#fff" stroke-width="2.6" fill="none"/>
<rect x="171.3" y="85" width="3.6" height="24" fill="#fff"/>
<rect x="166.3" y="107" width="14" height="2.2" fill="#fff"/>
</svg>

<svg class="abs" style="left:0;top:0" width="46" height="30">
<path d="M14 15.5 L17.4 12 L20.8 15.5 Z" fill="#505050"/>
<rect x="15.8" y="15.3" width="3.4" height="1.4" fill="#505050"/>
<path d="M16.2 19 L18.5 21.3 L22.8 16.5" fill="none" stroke="#505050" stroke-width="1.3"/>
<rect x="22.6" y="20.2" width="3.4" height="1.4" fill="#505050"/>
<path d="M21 21.4 L28 21.4 L24.5 24.8 Z" fill="#505050"/>
<path d="M34.8 17 L40.2 17 L37.5 19.8 Z" fill="#000"/>
</svg>
</body></html>
